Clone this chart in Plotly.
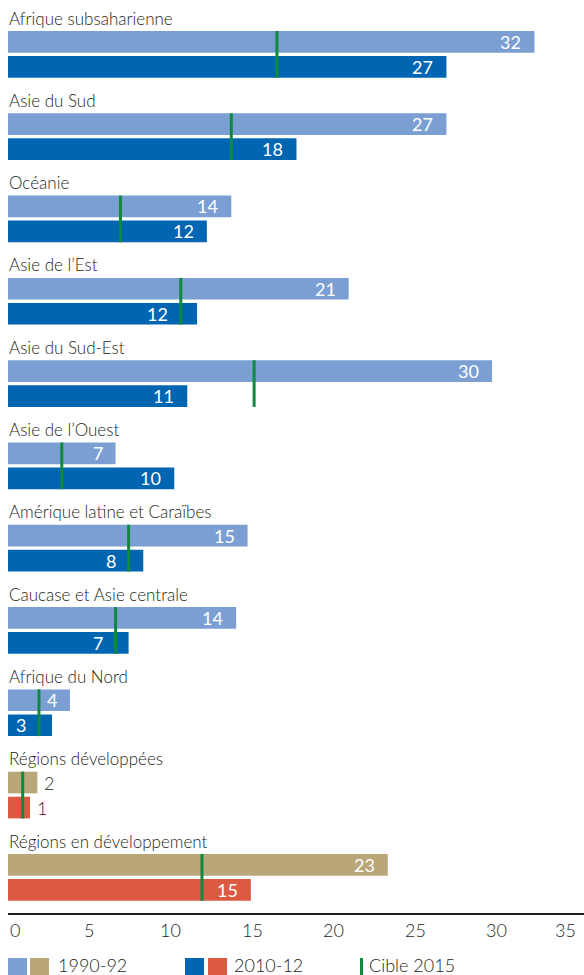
import plotly.graph_objects as go

# ---- data -------------------------------------------------------------
regions = [
    "Afrique subsaharienne",
    "Asie du Sud",
    "Océanie",
    "Asie de l’Est",
    "Asie du Sud-Est",
    "Asie de l’Ouest",
    "Amérique latine et Caraïbes",
    "Caucase et Asie centrale",
    "Afrique du Nord",
    "Régions développées",
    "Régions en développement",
]
v1990 = [32.3, 26.9, 13.7, 20.9, 29.7, 6.6, 14.7, 14.0, 3.8, 1.8, 23.3]
v2010 = [26.9, 17.7, 12.2, 11.6, 11.0, 10.2, 8.3, 7.4, 2.7, 1.35, 14.9]
target2015 = [16.5, 13.7, 6.9, 10.6, 15.1, 3.3, 7.4, 6.6, 1.9, 0.9, 11.9]
aggregate = [0, 0, 0, 0, 0, 0, 0, 0, 0, 1, 1]

tick_values = [0, 5, 10, 15, 20, 25, 30, 35]
tick_labels = ["0", "5", "10", "15", "20", "25", "30", "35"]
legend_labels = ["1990-92", "2010-12", "Cible 2015"]

# ---- style ------------------------------------------------------------
FONT = "Lato"
WEIGHT = 300
INK = "#231f20"
C_1990 = ["#7b9fd3", "#b9a779"]
C_2010 = ["#0066b2", "#dc5a42"]
C_TARGET = "#10893f"

W, H = 584, 975
ML, MR, MT, MB = 8, 0, 0, 62
PLOT_W = W - ML - MR
PLOT_H = H - MT - MB
X_MAX = 35.34
PX = PLOT_W / X_MAX  # pixels per percentage point

GROUP_STEP = 82.3
BAR_H = 21.7
BAR_GAP = 3.3
FIRST_TOP = 31.0

n = len(regions)
top1 = [FIRST_TOP + i * GROUP_STEP for i in range(n)]
mid1 = [t + BAR_H / 2 for t in top1]
mid2 = [t + BAR_H + BAR_GAP + BAR_H / 2 for t in top1]
bottom2 = [t + 2 * BAR_H + BAR_GAP for t in top1]


def py(px_y):
    """pixel row (from top of page) -> paper y coordinate"""
    return (PLOT_H - (px_y - MT)) / PLOT_H


def px_x(px):
    """pixel column -> paper x coordinate"""
    return (px - ML) / PLOT_W


def font(size, color=INK, weight=WEIGHT):
    return dict(family=FONT, size=size, color=color, weight=weight)


fig = go.Figure()

fig.add_trace(go.Bar(
    x=v1990, y=mid1, orientation="h", width=BAR_H,
    marker=dict(color=[C_1990[a] for a in aggregate], line=dict(width=0)),
    hoverinfo="skip", showlegend=False,
))
fig.add_trace(go.Bar(
    x=v2010, y=mid2, orientation="h", width=BAR_H,
    marker=dict(color=[C_2010[a] for a in aggregate], line=dict(width=0)),
    hoverinfo="skip", showlegend=False,
))

# 2015 target markers spanning both bars of each region
tx, ty = [], []
for t, a, b in zip(target2015, top1, bottom2):
    tx += [t, t, None]
    ty += [a, b, None]
fig.add_trace(go.Scatter(
    x=tx, y=ty, mode="lines", line=dict(color=C_TARGET, width=3),
    hoverinfo="skip", showlegend=False,
))

annotations = []

# region names above each pair of bars
for name, t in zip(regions, top1):
    annotations.append(dict(
        x=0, y=t - 13, xref="x", yref="y", text=name, showarrow=False,
        xanchor="left", yanchor="middle", xshift=-1,
        font=font(17),
    ))

# value labels
PAD = 11
MIN_INSIDE = 40
DIGIT_W = 10.5


def value_label(value, target, y):
    text = f"{value:.0f}"
    end_px = value * PX
    if end_px < MIN_INSIDE:
        return dict(x=value, y=y, xref="x", yref="y", text=text, showarrow=False,
                    xanchor="left", yanchor="middle", xshift=5,
                    font=font(18))
    right = end_px - PAD
    w = DIGIT_W * len(text)
    tgt_px = target * PX
    anchor = value
    if right - w - 4 < tgt_px < end_px:
        anchor = target
    return dict(x=anchor, y=y, xref="x", yref="y", text=text, showarrow=False,
                xanchor="right", yanchor="middle", xshift=-PAD,
                font=font(18, "white", 400))


for v, t, y in zip(v1990, target2015, mid1):
    annotations.append(value_label(v, t, y))
for v, t, y in zip(v2010, target2015, mid2):
    annotations.append(value_label(v, t, y))

# axis tick labels
for i, (tv, tl) in enumerate(zip(tick_values, tick_labels)):
    anchor = "left" if i == 0 else ("right" if i == len(tick_values) - 1 else "center")
    annotations.append(dict(
        x=tv, y=py(930), xref="x", yref="paper", text=tl, showarrow=False,
        xanchor=anchor, yanchor="middle",
        font=font(18),
    ))

# legend
shapes = []
swatches = [(8, C_1990[0]), (30, C_1990[1]), (185, C_2010[0]), (208, C_2010[1])]
for x0, col in swatches:
    shapes.append(dict(type="rect", xref="paper", yref="paper",
                       x0=px_x(x0), x1=px_x(x0 + 19), y0=py(958), y1=py(980),
                       fillcolor=col, line=dict(width=0)))
shapes.append(dict(type="line", xref="paper", yref="paper",
                   x0=px_x(361.5), x1=px_x(361.5), y0=py(958), y1=py(980),
                   line=dict(color=C_TARGET, width=3)))
for x0, lab in zip([56, 232, 367], legend_labels):
    annotations.append(dict(
        x=px_x(x0), y=py(965), xref="paper", yref="paper", text=lab,
        showarrow=False, xanchor="left", yanchor="middle",
        font=font(18),
    ))

fig.update_layout(
    width=W, height=H,
    margin=dict(l=ML, r=MR, t=MT, b=MB, pad=0),
    paper_bgcolor="white", plot_bgcolor="white",
    barmode="overlay", showlegend=False,
    xaxis=dict(range=[0, X_MAX], showline=True, linecolor=INK, linewidth=1.5,
               showgrid=False, zeroline=False, ticks="", showticklabels=False,
               fixedrange=True),
    yaxis=dict(range=[PLOT_H, 0], visible=False, fixedrange=True),
    annotations=annotations,
    shapes=shapes,
)

fig.write_html("out.html", config={"displayModeBar": False})
